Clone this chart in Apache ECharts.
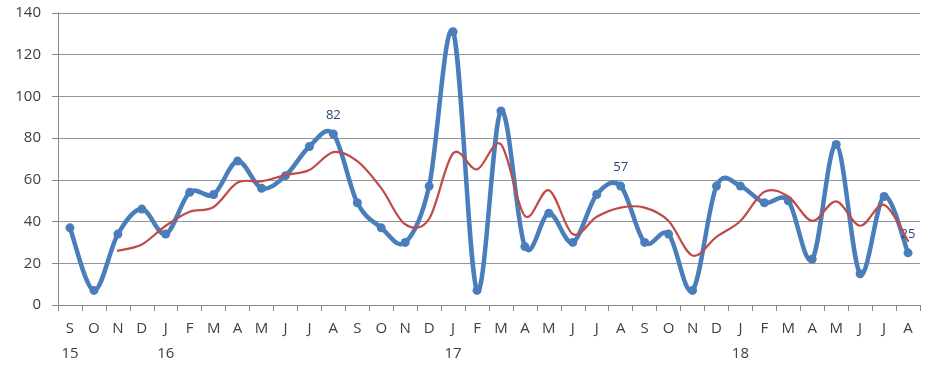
<!DOCTYPE html>
<html><head><meta charset="utf-8">
<script src="https://cdn.jsdelivr.net/npm/echarts@6/dist/echarts.min.js"></script>
<style>html,body{margin:0;padding:0;background:#fff}#c{width:931px;height:368px}</style>
</head><body><div id="c"></div>
<script>
const months = ['S','O','N','D','J','F','M','A','M','J','J','A','S','O','N','D','J','F','M','A','M','J','J','A','S','O','N','D','J','F','M','A','M','J','J','A'];
const years = {0:'15',4:'16',16:'17',28:'18'};
const values = [37,7,34,46,34,54,53,69,56,62,76,82,49,37,30,57,131,7,93,28,44,30,53,57,30,34,7,57,57,49,50,22,77,15,52,25];
const trend = [null,null,26,29,38,44.7,47,58.7,59.3,62.3,64.7,73.3,69,56,38.7,41.3,72.7,65,77,42.7,55,34,42.3,46.7,46.7,40.3,23.7,32.7,40.3,54.3,52,40.3,49.7,38,48,30.7];
const labelled = [11,23,35];
const yTicks = {min:0,max:140,interval:20};

const cats = months.map((m,i)=> years[i] ? m+'\n'+years[i] : m);
const chart = echarts.init(document.getElementById('c'));
const font = '"Open Sans", "Liberation Sans", sans-serif';

// smooth curve through the library's coordinates (Catmull-Rom style, like spreadsheet smoothing)
function curvePath(api, arr){
  const pts=[];
  arr.forEach((v,i)=>{ if(v!=null) pts.push(api.coord([i,v])); });
  let d='M'+pts[0][0]+' '+pts[0][1];
  for(let i=0;i<pts.length-1;i++){
    const p0=pts[i-1]||pts[i], p1=pts[i], p2=pts[i+1], p3=pts[i+2]||pts[i+1];
    const c1=[p1[0]+(p2[0]-p0[0])/6, p1[1]+(p2[1]-p0[1])/6];
    const c2=[p2[0]-(p3[0]-p1[0])/6, p2[1]-(p3[1]-p1[1])/6];
    d+=' C'+c1[0]+' '+c1[1]+' '+c2[0]+' '+c2[1]+' '+p2[0]+' '+p2[1];
  }
  return d;
}
function curveSeries(arr,color,width,z){
  return {type:'custom',coordinateSystem:'cartesian2d',data:[[0,0]],encode:{x:0,y:1},silent:true,z:z,clip:false,
    renderItem:(params,api)=>({type:'path',shape:{pathData:curvePath(api,arr)},
      style:{fill:'none',stroke:color,lineWidth:width,lineCap:'round',lineJoin:'round'}})};
}

chart.setOption({
  animation:false,
  grid:{left:58,right:11,top:13,bottom:63},
  xAxis:{type:'category',data:cats,boundaryGap:true,
    axisLine:{lineStyle:{color:'#868686',width:1}},
    axisTick:{show:true,alignWithLabel:false,length:6,lineStyle:{color:'#868686'}},
    axisLabel:{color:'#404040',fontSize:15,fontFamily:font,interval:0,lineHeight:25,margin:11,align:'center'}
  },
  yAxis:{type:'value',min:yTicks.min,max:yTicks.max,interval:yTicks.interval,
    axisLine:{show:true,lineStyle:{color:'#868686'}},
    axisTick:{show:true,length:6,lineStyle:{color:'#868686'}},
    splitLine:{lineStyle:{color:'#959595',width:1}},
    axisLabel:{color:'#404040',fontSize:15,fontFamily:font,margin:17}
  },
  series:[
    curveSeries(values,'#4a7ebb',4.5,3),
    {type:'line',data:values,symbol:'circle',symbolSize:9,
     lineStyle:{width:0,opacity:0},itemStyle:{color:'#4a7ebb'},
     label:{show:true,position:'top',distance:8,color:'#1f497d',fontSize:13,fontFamily:font,
       formatter:p=> labelled.includes(p.dataIndex)? String(p.value):''},
     z:4},
    curveSeries(trend,'#be4b48',2.2,5)
  ]
});
</script></body></html>
